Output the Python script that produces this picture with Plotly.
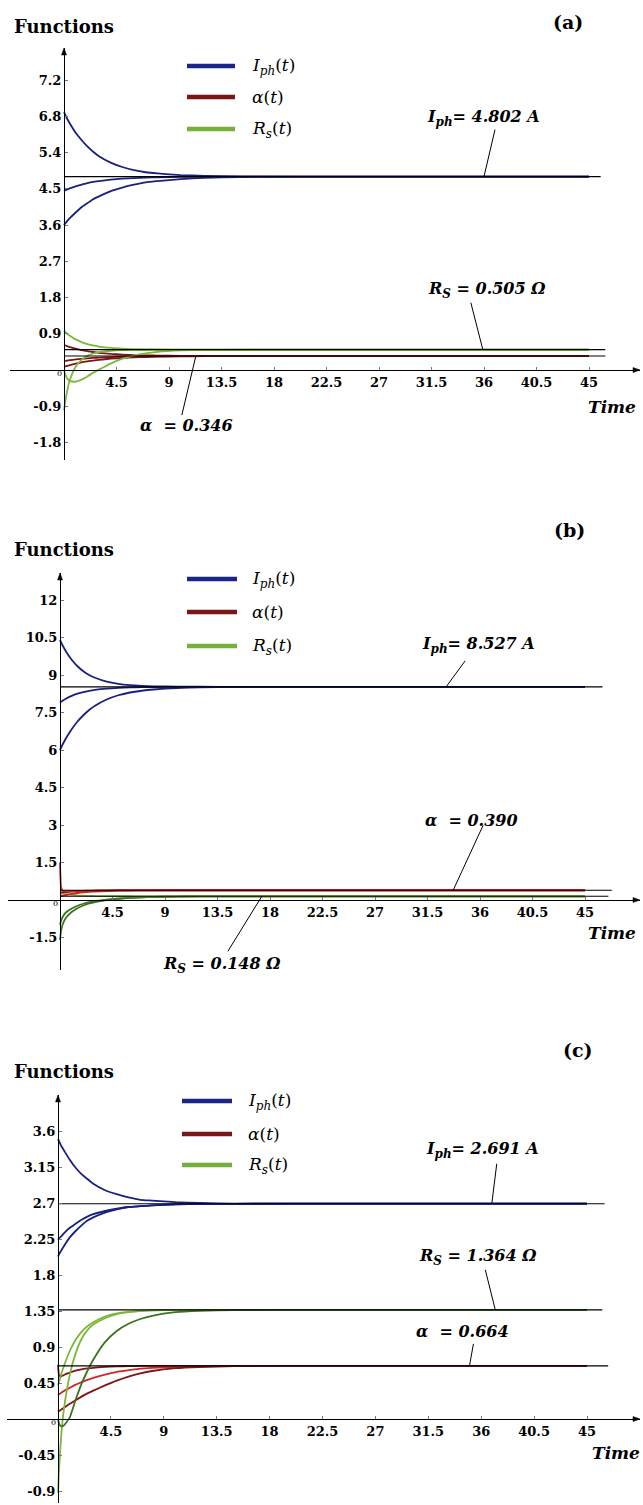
import plotly.graph_objects as go

W, H = 643, 1505

# ---------------- data ----------------
T = [0, 0.1, 0.25, 0.5, 1, 1.5, 2, 2.5, 3, 4, 5, 6, 7, 8, 10, 12, 15, 20, 45]

X_TICKS = [4.5, 9, 13.5, 18, 22.5, 27, 31.5, 36, 40.5, 45]
X_TICK_LABELS = ["4.5", "9", "13.5", "18", "22.5", "27", "31.5", "36", "40.5", "45"]

# panel (a)
A_IPH_SS, A_ALPHA_SS, A_RS_SS = 4.802, 0.346, 0.505
A_IPH_1 = [6.40, 6.34, 6.25, 6.12, 5.89, 5.71, 5.55, 5.42, 5.31, 5.15, 5.04, 4.96, 4.91, 4.88, 4.84, 4.82, 4.807, 4.803, 4.802]
A_IPH_2 = [4.45, 4.463, 4.48, 4.51, 4.56, 4.60, 4.64, 4.67, 4.69, 4.725, 4.75, 4.766, 4.777, 4.785, 4.794, 4.798, 4.801, 4.802, 4.802]
A_IPH_3 = [3.60, 3.64, 3.69, 3.77, 3.91, 4.04, 4.14, 4.24, 4.31, 4.44, 4.53, 4.60, 4.66, 4.69, 4.74, 4.77, 4.79, 4.80, 4.802]
A_ALPHA_1 = [0.62, 0.61, 0.594, 0.57, 0.53, 0.496, 0.469, 0.447, 0.428, 0.401, 0.383, 0.371, 0.363, 0.357, 0.351, 0.348, 0.347, 0.346, 0.346]
A_ALPHA_2 = [0.22, 0.225, 0.232, 0.243, 0.262, 0.277, 0.289, 0.30, 0.308, 0.321, 0.329, 0.335, 0.338, 0.341, 0.344, 0.345, 0.346, 0.346, 0.346]
A_ALPHA_3 = [0.08, 0.089, 0.102, 0.123, 0.158, 0.189, 0.214, 0.235, 0.253, 0.28, 0.30, 0.314, 0.323, 0.33, 0.338, 0.342, 0.345, 0.346, 0.346]
A_RS_1 = [0.97, 0.943, 0.905, 0.85, 0.76, 0.694, 0.645, 0.609, 0.582, 0.547, 0.528, 0.518, 0.512, 0.509, 0.506, 0.505, 0.505, 0.505, 0.505]
A_RS_2 = [-1.0, -0.8, -0.55, -0.25, 0.08, 0.25, 0.35, 0.41, 0.445, 0.478, 0.493, 0.50, 0.503, 0.504, 0.505, 0.505, 0.505, 0.505, 0.505]
A_RS_3 = [0.0, -0.1, -0.2, -0.27, -0.29, -0.24, -0.16, -0.07, 0.01, 0.16, 0.28, 0.36, 0.415, 0.45, 0.485, 0.498, 0.503, 0.505, 0.505]
A_YTICKS = [-1.8, -0.9, 0.9, 1.8, 2.7, 3.6, 4.5, 5.4, 6.3, 7.2]
A_YTICK_LABELS = ["-1.8", "-0.9", "0.9", "1.8", "2.7", "3.6", "4.5", "5.4", "6.8", "7.2"]

# panel (b)
B_IPH_SS, B_ALPHA_SS, B_RS_SS = 8.527, 0.390, 0.148
B_IPH_1 = [10.40, 10.30, 10.16, 9.95, 9.61, 9.35, 9.15, 9.00, 8.89, 8.735, 8.647, 8.596, 8.566, 8.549, 8.535, 8.53, 8.527, 8.527, 8.527]
B_IPH_2 = [7.90, 7.934, 7.98, 8.05, 8.165, 8.252, 8.318, 8.368, 8.407, 8.457, 8.487, 8.504, 8.514, 8.52, 8.525, 8.526, 8.527, 8.527, 8.527]
B_IPH_3 = [6.00, 6.10, 6.24, 6.46, 6.83, 7.14, 7.39, 7.60, 7.77, 8.02, 8.19, 8.30, 8.37, 8.42, 8.48, 8.51, 8.52, 8.526, 8.527]
B_ALPHA_1 = [1.5, 0.5, 0.36, 0.35, 0.355, 0.362, 0.368, 0.373, 0.377, 0.382, 0.385, 0.387, 0.388, 0.389, 0.39, 0.39, 0.39, 0.39, 0.39]
B_ALPHA_2 = [0.15, 0.16, 0.175, 0.20, 0.245, 0.28, 0.305, 0.325, 0.34, 0.36, 0.372, 0.379, 0.384, 0.386, 0.389, 0.39, 0.39, 0.39, 0.39]
B_ALPHA_3 = [0.30, 0.303, 0.31, 0.32, 0.335, 0.348, 0.357, 0.364, 0.37, 0.377, 0.382, 0.385, 0.387, 0.388, 0.389, 0.39, 0.39, 0.39, 0.39]
B_RS_1 = [-1.6, -1.2, -0.95, -0.72, -0.48, -0.33, -0.22, -0.14, -0.08, 0.0, 0.05, 0.085, 0.105, 0.12, 0.137, 0.144, 0.147, 0.148, 0.148]
B_RS_2 = [-1.0, -0.82, -0.66, -0.5, -0.34, -0.23, -0.15, -0.09, -0.05, 0.01, 0.055, 0.088, 0.108, 0.122, 0.138, 0.145, 0.147, 0.148, 0.148]
B_RS_3 = [0.28, 0.27, 0.255, 0.235, 0.205, 0.185, 0.172, 0.163, 0.158, 0.153, 0.15, 0.149, 0.148, 0.148, 0.148, 0.148, 0.148, 0.148, 0.148]
B_YTICKS = [-1.5, 1.5, 3, 4.5, 6, 7.5, 9, 10.5, 12]
B_YTICK_LABELS = ["-1.5", "1.5", "3", "4.5", "6", "7.5", "9", "10.5", "12"]

# panel (c)
C_IPH_SS, C_ALPHA_SS, C_RS_SS = 2.691, 0.664, 1.364
C_IPH_1 = [3.50, 3.47, 3.42, 3.36, 3.24, 3.14, 3.06, 3.00, 2.94, 2.86, 2.81, 2.77, 2.74, 2.73, 2.71, 2.70, 2.693, 2.691, 2.691]
C_IPH_2 = [2.24, 2.26, 2.28, 2.32, 2.39, 2.44, 2.49, 2.53, 2.56, 2.60, 2.63, 2.65, 2.66, 2.67, 2.683, 2.687, 2.69, 2.691, 2.691]
C_IPH_3 = [2.03, 2.06, 2.10, 2.16, 2.27, 2.35, 2.42, 2.48, 2.52, 2.58, 2.62, 2.65, 2.66, 2.67, 2.684, 2.688, 2.69, 2.691, 2.691]
C_ALPHA_1 = [0.68, 0.54, 0.53, 0.55, 0.58, 0.605, 0.62, 0.633, 0.64, 0.652, 0.658, 0.661, 0.663, 0.664, 0.664, 0.664, 0.664, 0.664, 0.664]
C_ALPHA_2 = [0.30, 0.31, 0.325, 0.35, 0.39, 0.43, 0.46, 0.49, 0.515, 0.555, 0.59, 0.61, 0.63, 0.64, 0.652, 0.658, 0.662, 0.664, 0.664]
C_ALPHA_3 = [0.09, 0.10, 0.115, 0.14, 0.19, 0.235, 0.28, 0.32, 0.355, 0.42, 0.48, 0.53, 0.57, 0.60, 0.635, 0.65, 0.66, 0.664, 0.664]
C_RS_1 = [0.42, 0.47, 0.55, 0.66, 0.85, 0.99, 1.09, 1.16, 1.21, 1.28, 1.32, 1.34, 1.352, 1.358, 1.362, 1.364, 1.364, 1.364, 1.364]
C_RS_2 = [-0.92, -0.6, -0.25, 0.12, 0.55, 0.82, 1.0, 1.11, 1.18, 1.26, 1.31, 1.335, 1.35, 1.357, 1.362, 1.364, 1.364, 1.364, 1.364]
C_RS_3 = [0.0, -0.06, -0.09, -0.08, 0.02, 0.24, 0.44, 0.60, 0.74, 0.96, 1.10, 1.19, 1.25, 1.29, 1.335, 1.352, 1.361, 1.364, 1.364]
C_YTICKS = [-0.9, -0.45, 0.45, 0.9, 1.35, 1.8, 2.25, 2.7, 3.15, 3.6]
C_YTICK_LABELS = ["-0.9", "-0.45", "0.45", "0.9", "1.35", "1.8", "2.25", "2.7", "3.15", "3.6"]

PANEL_LABELS = ["(a)", "(b)", "(c)"]

# ---------------- styling ----------------
BLUE = "#18227e"
RED_D = "#7e1414"
RED_L = "#d02626"
GRN_L = "#7ab83c"
GRN_D = "#3a7422"
LEG_COLORS = ["#1b2588", "#7a1616", "#74b03a"]
SERIF = "DejaVu Serif"


def sub(s, size):
    """Subscript written as a smaller, baseline-shifted span."""
    return "<span style='font-size:%dpx;baseline-shift:-%dpx'>%s</span>" % (size, int(size * 0.35), s)


LEGEND_NAMES = ["<i>I%s</i>(<i>t</i>)" % sub("ph", 12),
                "<i>α</i>(<i>t</i>)",
                "<i>R%s</i>(<i>t</i>)" % sub("s", 12)]


def iph_note(v):
    return "<b><i>I%s= %.3f A</i></b>" % (sub("ph", 12), v)


def rs_note(v):
    return "<b><i>R%s = %.3f Ω</i></b>" % (sub("S", 12), v)


def alpha_note(v):
    return "<b><i>α  = %.3f</i></b>" % v


panels = [
    dict(label=PANEL_LABELS[0],
         curves=[(A_IPH_1, BLUE), (A_IPH_2, BLUE), (A_IPH_3, BLUE),
                 (A_ALPHA_1, RED_D), (A_ALPHA_2, RED_D), (A_ALPHA_3, RED_D),
                 (A_RS_1, GRN_L), (A_RS_2, GRN_L), (A_RS_3, GRN_L)],
         steady=[(A_IPH_SS, 46.0), (A_RS_SS, 46.4), (A_ALPHA_SS, 46.4)],
         yticks=A_YTICKS, yticklabels=A_YTICK_LABELS,
         xl=10, xr=640, x0=64, x45=589, yt=48, yb=460, y0=370, yref=(7.2, 80),
         func_y=27, lab_xy=(568, 22), leg_y=[66, 97, 129], leg_x=(187, 235, 250),
         time_xy=(612, 407),
         notes=[  # (text, anchor t, anchor v, text dx, text dy, leader dx, leader dy)
             (iph_note(A_IPH_SS), 36.0, A_IPH_SS, -1, 59, 11, 47),
             (rs_note(A_RS_SS), 35.9, A_RS_SS, 4, 60, -12, 47),
             (alpha_note(A_ALPHA_SS), 11.3, A_ALPHA_SS, -9, -69, -14, -59),
         ]),
    dict(label=PANEL_LABELS[1],
         curves=[(B_IPH_1, BLUE), (B_IPH_2, BLUE), (B_IPH_3, BLUE),
                 (B_RS_1, GRN_D), (B_RS_2, GRN_D), (B_RS_3, GRN_L),
                 (B_ALPHA_2, RED_L), (B_ALPHA_3, RED_D), (B_ALPHA_1, RED_L)],
         steady=[(B_IPH_SS, 46.5), (B_ALPHA_SS, 47.3), (B_RS_SS, 47.0)],
         yticks=B_YTICKS, yticklabels=B_YTICK_LABELS,
         xl=8, xr=640, x0=60, x45=585, yt=573, yb=970, y0=900, yref=(12, 600),
         func_y=550, lab_xy=(569, 530), leg_y=[579, 612, 646], leg_x=(187, 237, 250),
         time_xy=(612, 933),
         notes=[
             (iph_note(B_IPH_SS), 33.1, B_IPH_SS, 32, 42, 19, 26),
             (alpha_note(B_ALPHA_SS), 33.7, B_ALPHA_SS, 18, 70, 30, 65),
             (rs_note(B_RS_SS), 17.3, B_RS_SS, -40, -69, -34, -55),
         ]),
    dict(label=PANEL_LABELS[2],
         curves=[(C_IPH_1, BLUE), (C_IPH_2, BLUE), (C_IPH_3, BLUE),
                 (C_ALPHA_1, RED_D), (C_ALPHA_2, RED_L), (C_ALPHA_3, RED_D),
                 (C_RS_1, GRN_L), (C_RS_2, GRN_L), (C_RS_3, GRN_D)],
         steady=[(C_IPH_SS, 46.5), (C_RS_SS, 46.3), (C_ALPHA_SS, 46.8)],
         yticks=C_YTICKS, yticklabels=C_YTICK_LABELS,
         xl=7, xr=640, x0=58, x45=587, yt=1095, yb=1503, y0=1419, yref=(3.6, 1131),
         func_y=1071, lab_xy=(578, 1050), leg_y=[1101, 1134, 1165], leg_x=(182, 232, 246),
         time_xy=(616, 1453),
         notes=[
             (iph_note(C_IPH_SS), 36.9, C_IPH_SS, -9, 54, 5, 40),
             (rs_note(C_RS_SS), 37.2, C_RS_SS, -17, 53, -10, 40),
             (alpha_note(C_ALPHA_SS), 35.0, C_ALPHA_SS, -7, 34, 4, 22),
         ]),
]

fig = go.Figure()
layout = dict(width=W, height=H, margin=dict(l=0, r=0, t=0, b=0),
              paper_bgcolor="white", plot_bgcolor="white", showlegend=False,
              hovermode=False)
annotations, shapes = [], []

for k, p in enumerate(panels, start=1):
    xa = "x" if k == 1 else f"x{k}"
    ya = "y" if k == 1 else f"y{k}"
    xkey = "xaxis" if k == 1 else f"xaxis{k}"
    ykey = "yaxis" if k == 1 else f"yaxis{k}"

    sx = (p["x45"] - p["x0"]) / 45.0
    xrange = [(p["xl"] - p["x0"]) / sx, (p["xr"] - p["x0"]) / sx]
    sy = (p["y0"] - p["yref"][1]) / p["yref"][0]
    yrange = [-(p["yb"] - p["y0"]) / sy, (p["y0"] - p["yt"]) / sy]

    tickfont = dict(family=SERIF, size=13, color="black", weight="bold")
    layout[xkey] = dict(domain=[p["xl"] / W, p["xr"] / W], range=xrange,
                        anchor="free", position=1 - p["y0"] / H,
                        showline=True, linecolor="black", linewidth=1.2,
                        ticks="inside", ticklen=3, tickcolor="#777",
                        tickvals=X_TICKS, ticktext=X_TICK_LABELS, tickfont=tickfont,
                        showgrid=False, zeroline=False, fixedrange=True)
    layout[ykey] = dict(domain=[1 - p["yb"] / H, 1 - p["yt"] / H], range=yrange,
                        anchor="free", position=p["x0"] / W,
                        showline=True, linecolor="black", linewidth=1.2,
                        ticks="inside", ticklen=3, tickcolor="#777",
                        tickvals=p["yticks"], ticktext=p["yticklabels"], tickfont=tickfont,
                        showgrid=False, zeroline=False, fixedrange=True)

    for vals, col in p["curves"]:
        fig.add_trace(go.Scatter(x=T, y=vals, mode="lines", xaxis=xa, yaxis=ya,
                                 line=dict(color=col, width=1.8, shape="spline", smoothing=0.5),
                                 hoverinfo="skip"))
    for v, tend in p["steady"]:
        fig.add_trace(go.Scatter(x=[0, tend], y=[v, v], mode="lines", xaxis=xa, yaxis=ya,
                                 line=dict(color="black", width=1.1), hoverinfo="skip"))

    # axis arrowheads (shapes, pixel-sized, anchored at the axis ends)
    shapes.append(dict(type="path", xref=xa, yref=f"{ya} domain",
                       xsizemode="pixel", ysizemode="pixel", xanchor=0, yanchor=1,
                       path="M-2.5,-7 L0,0 L2.5,-7 Z", fillcolor="black",
                       line=dict(color="black", width=0.5)))
    shapes.append(dict(type="path", xref=f"{xa} domain", yref=ya,
                       xsizemode="pixel", ysizemode="pixel", xanchor=1, yanchor=0,
                       path="M-7,-2.5 L0,0 L-7,2.5 Z", fillcolor="black",
                       line=dict(color="black", width=0.5)))
    # small origin label
    annotations.append(dict(x=0, y=0, xref=xa, yref=ya, text="0", showarrow=False,
                            xshift=-5, yshift=-3, font=dict(family=SERIF, size=8, color="black")))

    # "Functions" title, panel letter, "Time"
    annotations.append(dict(x=12 / W, y=1 - p["func_y"] / H, xref="paper", yref="paper",
                            xanchor="left", yanchor="middle", showarrow=False,
                            text="<b>Functions</b>", font=dict(family=SERIF, size=18, color="black")))
    annotations.append(dict(x=p["lab_xy"][0] / W, y=1 - p["lab_xy"][1] / H, xref="paper", yref="paper",
                            xanchor="center", yanchor="middle", showarrow=False,
                            text="<b>%s</b>" % p["label"], font=dict(family=SERIF, size=19, color="black")))
    annotations.append(dict(x=p["time_xy"][0] / W, y=1 - p["time_xy"][1] / H, xref="paper", yref="paper",
                            xanchor="center", yanchor="middle", showarrow=False,
                            text="<b><i>Time</i></b>", font=dict(family=SERIF, size=17, color="black")))

    # legend (line sample + label)
    lx0, lx1, ltx = p["leg_x"]
    for name, col, ly in zip(LEGEND_NAMES, LEG_COLORS, p["leg_y"]):
        shapes.append(dict(type="line", xref="paper", yref="paper",
                           x0=lx0 / W, x1=lx1 / W, y0=1 - ly / H, y1=1 - ly / H,
                           line=dict(color=col, width=4.5)))
        annotations.append(dict(x=ltx / W, y=1 - ly / H, xref="paper", yref="paper",
                                xanchor="left", yanchor="middle", showarrow=False,
                                text=name, font=dict(family=SERIF, size=17, color="black")))

    # value call-outs with leader lines
    for text, ta, va, tdx, tdy, ldx, ldy in p["notes"]:
        annotations.append(dict(x=ta, y=va, xref=xa, yref=ya, text=text, showarrow=False,
                                xshift=tdx, yshift=tdy, xanchor="center", yanchor="middle",
                                font=dict(family=SERIF, size=16, color="black")))
        shapes.append(dict(type="line", xref=xa, yref=ya, xsizemode="pixel", ysizemode="pixel",
                           xanchor=ta, yanchor=va, x0=0, y0=0, x1=ldx, y1=ldy,
                           line=dict(color="black", width=1)))

layout["annotations"] = annotations
layout["shapes"] = shapes
fig.update_layout(**layout)
fig.write_html("out.html")
